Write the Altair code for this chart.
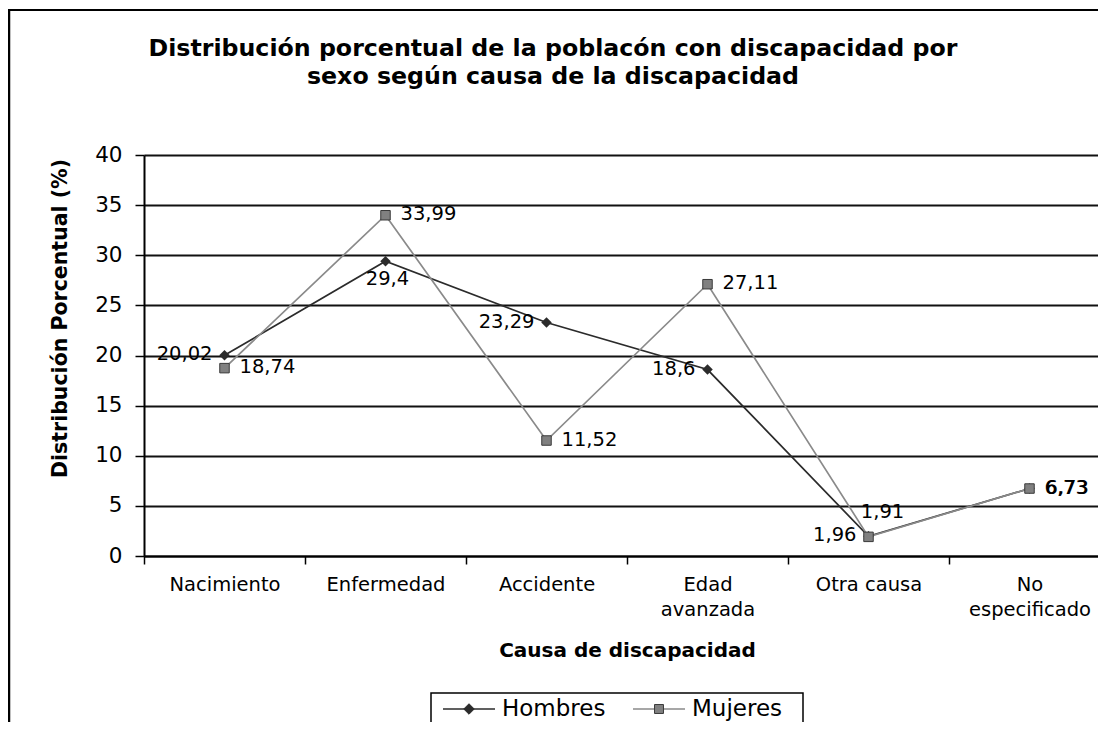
import altair as alt
import pandas as pd

categorias = ["Nacimiento", "Enfermedad", "Accidente", "Edad avanzada", "Otra causa", "No especificado"]
hombres = [20.02, 29.4, 23.29, 18.6, 1.96, 6.73]
mujeres = [18.74, 33.99, 11.52, 27.11, 1.91, 6.73]
series = ["Hombres", "Mujeres"]
y_ticks = [0, 5, 10, 15, 20, 25, 30, 35, 40]

rows = []
for c, h, m in zip(categorias, hombres, mujeres):
    rows.append({"causa": c, "serie": "Hombres", "valor": h})
    rows.append({"causa": c, "serie": "Mujeres", "valor": m})
df = pd.DataFrame(rows)

FONT = "DejaVu Sans"
DARK = "#2b2b2b"
GRAY = "#8a8a8a"
SQFILL = "#808080"

label_expr = ("datum.value == 'Edad avanzada' ? ['Edad', 'avanzada'] : "
              "datum.value == 'No especificado' ? ['No', 'especificado'] : datum.value")

x_enc = alt.X(
    "causa:N", sort=categorias,
    scale=alt.Scale(type="band", paddingInner=0, paddingOuter=0, range=[0, 966]),
    axis=alt.Axis(
        title="Causa de discapacidad", labelExpr=label_expr, labelAngle=0,
        tickBand="extent", tickSize=8, tickColor="black", tickWidth=1.5,
        domainColor="black", domainWidth=2, labelFont=FONT, labelFontSize=19.5,
        labelLineHeight=25, labelPadding=11, labelColor="black",
        titleFont=FONT, titleFontSize=20, titleFontWeight="bold", titleColor="black",
        titleY=94, titleBaseline="middle", grid=False,
    ),
)
y_enc = alt.Y(
    "valor:Q",
    scale=alt.Scale(domain=[0, 40], nice=False),
    axis=alt.Axis(
        title="Distribución Porcentual (%)", values=y_ticks, tickSize=9,
        tickColor="black", tickWidth=1.5, domainColor="black", domainWidth=2,
        labelFont=FONT, labelFontSize=21.5, labelPadding=13, labelColor="black",
        grid=True, gridColor="#111111", gridWidth=1.8,
        titleFont=FONT, titleFontSize=20.5, titleFontWeight="bold", titleColor="black",
        titleX=-84, titleY=163, titleAlign="center", titleBaseline="middle", titleAngle=270,
    ),
)

base = alt.Chart(df).transform_calculate(
    etiqueta="replace(toString(datum.valor), '.', ',')"
)

lines = base.mark_line(strokeWidth=1.7).encode(
    x=x_enc, y=y_enc,
    color=alt.Color("serie:N", scale=alt.Scale(domain=series, range=[DARK, GRAY]), legend=None),
)

pts_h = base.mark_point(shape="diamond", filled=True, size=110, color=DARK, opacity=1).encode(
    x=alt.X("causa:N", sort=categorias), y="valor:Q"
).transform_filter("datum.serie == 'Hombres'")

pts_m = base.mark_point(shape="square", filled=True, size=90, fill=SQFILL,
                        stroke="#3a3a3a", strokeWidth=1, opacity=1).encode(
    x=alt.X("causa:N", sort=categorias), y="valor:Q"
).transform_filter("datum.serie == 'Mujeres'")

def labels(filt, **kw):
    return base.mark_text(font=FONT, fontSize=19.5, color="black", baseline="middle", **kw).encode(
        x=alt.X("causa:N", sort=categorias), y="valor:Q", text="etiqueta:N"
    ).transform_filter(filt)

lab_h_left = labels("datum.serie == 'Hombres' && indexof(['Nacimiento','Accidente','Edad avanzada','Otra causa'], datum.causa) >= 0",
                    align="right", dx=-12, dy=-1)
lab_h_below = labels("datum.serie == 'Hombres' && datum.causa == 'Enfermedad'", align="center", dx=2, dy=18)
lab_h_right = labels("datum.serie == 'Hombres' && datum.causa == 'No especificado'", align="left", dx=16, dy=-1)
lab_m_right = labels("datum.serie == 'Mujeres' && datum.causa != 'Otra causa'", align="left", dx=15, dy=-1)
lab_m_above = labels("datum.serie == 'Mujeres' && datum.causa == 'Otra causa'", align="center", dx=14, dy=-25)

# ---- legend (boxed, below the axis title) ----
one = pd.DataFrame({"a": [0]})
LEG_Y = 554
leg_box = alt.Chart(one).mark_rect(fill="white", stroke="black", strokeWidth=1.5).encode(
    x=alt.value(287), x2=alt.value(659), y=alt.value(538), y2=alt.value(600)
)
leg_items = []
for name, x0, line_col, shape, fill, stroke, size in [
    (series[0], 299, DARK, "diamond", DARK, DARK, 110),
    (series[1], 489, GRAY, "square", SQFILL, "#3a3a3a", 80),
]:
    d = pd.DataFrame({"serie": [name]})
    leg_items.append(alt.Chart(d).mark_rule(color=line_col, strokeWidth=1.7).encode(
        x=alt.value(x0), x2=alt.value(x0 + 52), y=alt.value(LEG_Y)))
    leg_items.append(alt.Chart(d).mark_point(shape=shape, filled=True, size=size, fill=fill,
                                             stroke=stroke, strokeWidth=1, opacity=1).encode(
        x=alt.value(x0 + 26), y=alt.value(LEG_Y)))
    leg_items.append(alt.Chart(d).mark_text(font=FONT, fontSize=23, color="black",
                                            align="left", baseline="middle").encode(
        x=alt.value(x0 + 59), y=alt.value(LEG_Y), text="serie:N"))

frame_top = alt.Chart(one).mark_rule(color="black", strokeWidth=2).encode(
    x=alt.value(-135), x2=alt.value(970), y=alt.value(-145)
)
frame_left = alt.Chart(one).mark_rule(color="black", strokeWidth=2.5).encode(
    x=alt.value(-135), y=alt.value(-146), y2=alt.value(600)
)

chart = alt.layer(
    lines, pts_h, pts_m,
    lab_h_left, lab_h_below, lab_h_right, lab_m_right, lab_m_above,
    leg_box, *leg_items, frame_top, frame_left,
).properties(
    width=954, height=401,
    title=alt.TitleParams(
        text=["Distribución porcentual de la poblacón con discapacidad por",
              "sexo según causa de la discapacidad"],
        font=FONT, fontSize=23.7, fontWeight="bold", color="black",
        anchor="middle", frame="group", dx=-68, offset=-81, lineHeight=28,
    ),
    autosize=alt.AutoSizeParams(type="none"),
    padding={"left": 136, "top": 147, "right": 0, "bottom": 166},
).configure_view(
    stroke=None
).configure(background="white")

chart.save("out.html", embed_options={"renderer": "svg", "actions": False})
